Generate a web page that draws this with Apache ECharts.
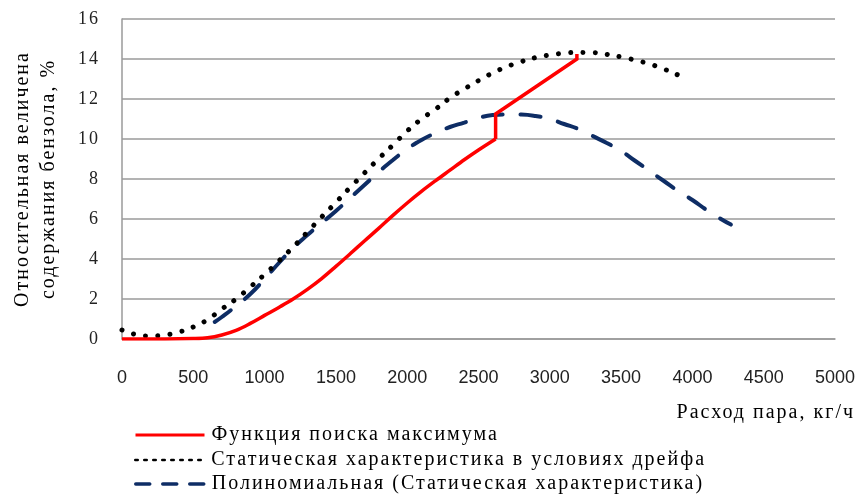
<!DOCTYPE html>
<html><head><meta charset="utf-8">
<script src="https://cdn.jsdelivr.net/npm/echarts@6/dist/echarts.min.js"></script>
<style>
html,body{margin:0;padding:0;background:#fff}
#c{width:861px;height:497px}
</style>
</head><body><div id="c"></div>
<script>
var seriesNames = ['Функция поиска максимума', 'Статическая характеристика в условиях дрейфа', 'Полиномиальная (Статическая характеристика)'];
var xAxisTitle = 'Расход пара, кг/ч';
var yAxisTitle = 'Относительная величена\nсодержания бензола, %';

// Функция поиска максимума: smooth rise, then the step and the straight search segment
var searchCurveX = [0, 300, 500, 600, 700, 800, 900, 1000, 1100, 1200, 1300, 1400, 1500, 1600, 1700, 1800, 1900, 2000, 2100, 2200, 2300, 2400, 2500, 2620];
var searchCurveY = [0, 0, 0.02, 0.06, 0.2, 0.43, 0.78, 1.18, 1.58, 2.0, 2.48, 3.02, 3.63, 4.26, 4.9, 5.53, 6.18, 6.8, 7.38, 7.92, 8.44, 8.96, 9.45, 10.0];
var searchStepX = [2620, 2620, 3190, 3190];
var searchStepY = [10.0, 11.25, 14.0, 14.25];

var driftX = [0, 100, 200, 300, 400, 500, 600, 700, 800, 900, 1000, 1100, 1200, 1300, 1400, 1500, 1600, 1700, 1800, 1900, 2000, 2100, 2200, 2300, 2400, 2500, 2600, 2700, 2800, 2900, 3000, 3100, 3200, 3300, 3400, 3500, 3600, 3700, 3800, 3900, 3950];
var driftY = [0.45, 0.22, 0.15, 0.2, 0.35, 0.6, 0.97, 1.5, 2.0, 2.6, 3.23, 3.9, 4.6, 5.35, 6.1, 6.83, 7.58, 8.3, 9.02, 9.7, 10.4, 11.0, 11.5, 12.05, 12.5, 12.92, 13.3, 13.62, 13.87, 14.07, 14.2, 14.29, 14.33, 14.32, 14.23, 14.1, 13.94, 13.75, 13.5, 13.2, 13.05];

var polyX = [650, 700, 800, 900, 1000, 1100, 1200, 1300, 1400, 1500, 1600, 1700, 1800, 1900, 2000, 2100, 2200, 2300, 2400, 2500, 2600, 2700, 2800, 2900, 3000, 3100, 3200, 3300, 3400, 3500, 3600, 3700, 3800, 3900, 4000, 4100, 4200, 4270];
var polyY = [0.85, 1.1, 1.65, 2.25, 3.0, 3.8, 4.55, 5.2, 5.8, 6.4, 7.05, 7.7, 8.35, 8.95, 9.5, 9.95, 10.3, 10.6, 10.82, 11.05, 11.2, 11.23, 11.22, 11.15, 11.0, 10.75, 10.5, 10.15, 9.8, 9.4, 8.9, 8.4, 7.9, 7.4, 6.95, 6.45, 6.0, 5.72];

function pairs(xs, ys) { return xs.map(function (x, i) { return [x, ys[i]]; }); }

// widen the serif captions slightly (the reference's text is loosely spaced)
(function () {
  var P = CanvasRenderingContext2D.prototype;
  ['fillText', 'strokeText', 'measureText'].forEach(function (fn) {
    var orig = P[fn];
    P[fn] = function () {
      if ('letterSpacing' in this) this.letterSpacing = /Serif/.test(this.font) ? '2px' : '0px';
      return orig.apply(this, arguments);
    };
  });
})();

var serif = "'Liberation Serif', serif";
var colors = ['#ff0000', '#000000', '#0e2d65'];
var legendLine = [
  {color: colors[0], width: 3, type: 'solid'},
  {color: colors[1], width: 2.5, type: [2.5, 6.5]},
  {color: colors[2], width: 3.5, type: [14, 13]}
];
var legendTops = [419, 444, 468];
var legends = seriesNames.map(function (n, i) {
  return {
    orient: 'vertical', left: 129, top: legendTops[i], itemGap: 0, itemWidth: 69, itemHeight: 20,
    textStyle: {fontFamily: serif, fontSize: 20, lineHeight: 20, color: '#000', padding: [0, 0, 0, 2]},
    data: [{name: n, lineStyle: legendLine[i], itemStyle: {opacity: 0}}]
  };
});

var chart = echarts.init(document.getElementById('c'), null, {renderer: 'canvas'});
chart.setOption({
  animation: false,
  backgroundColor: '#fff',
  grid: {left: 122, right: 26, top: 19, bottom: 158, containLabel: false, outerBoundsMode: 'none'},
  legend: legends,
  xAxis: {
    type: 'value', min: 0, max: 5000, interval: 500,
    name: xAxisTitle, nameLocation: 'end', nameGap: 20,
    nameTextStyle: {fontFamily: serif, fontSize: 20, color: '#000', align: 'right', verticalAlign: 'top', padding: [63, 0, 0, 0]},
    axisLine: {show: true, lineStyle: {color: '#9a9a9a', width: 1.5}},
    axisTick: {show: false},
    axisLabel: {fontFamily: 'Liberation Sans', fontSize: 18, color: '#222', margin: 30, formatter: function (v) { return String(v); }},
    splitLine: {show: false}
  },
  yAxis: {
    type: 'value', min: 0, max: 16, interval: 2,
    name: yAxisTitle, nameLocation: 'middle', nameGap: 60, nameRotate: 90,
    nameTextStyle: {fontFamily: serif, fontSize: 20, color: '#000', lineHeight: 26},
    axisLine: {show: true, lineStyle: {color: '#9a9a9a', width: 1.5}},
    axisTick: {show: false},
    axisLabel: {fontFamily: serif, fontSize: 18, color: '#222', margin: 22},
    splitLine: {show: true, lineStyle: {color: '#9a9a9a', width: 1.5}}
  },
  series: [
    {name: seriesNames[0], type: 'line', data: pairs(searchCurveX, searchCurveY), symbol: 'none', smooth: 0.35,
     lineStyle: {color: colors[0], width: 3.5}, itemStyle: {color: colors[0]}, z: 3},
    {name: seriesNames[0], type: 'line', data: pairs(searchStepX, searchStepY), symbol: 'none', smooth: false,
     lineStyle: {color: colors[0], width: 3.5, join: 'miter'}, itemStyle: {color: colors[0]}, z: 3},
    {name: seriesNames[1], type: 'line', data: pairs(driftX, driftY), symbol: 'none', smooth: true,
     lineStyle: {color: colors[1], width: 5, type: [0.01, 12.2], cap: 'round'}, itemStyle: {color: colors[1]}, z: 2},
    {name: seriesNames[2], type: 'line', data: pairs(polyX, polyY), symbol: 'none', smooth: true,
     lineStyle: {color: colors[2], width: 4, type: [20, 18], cap: 'round'}, itemStyle: {color: colors[2]}, z: 1}
  ]
});
</script></body></html>
